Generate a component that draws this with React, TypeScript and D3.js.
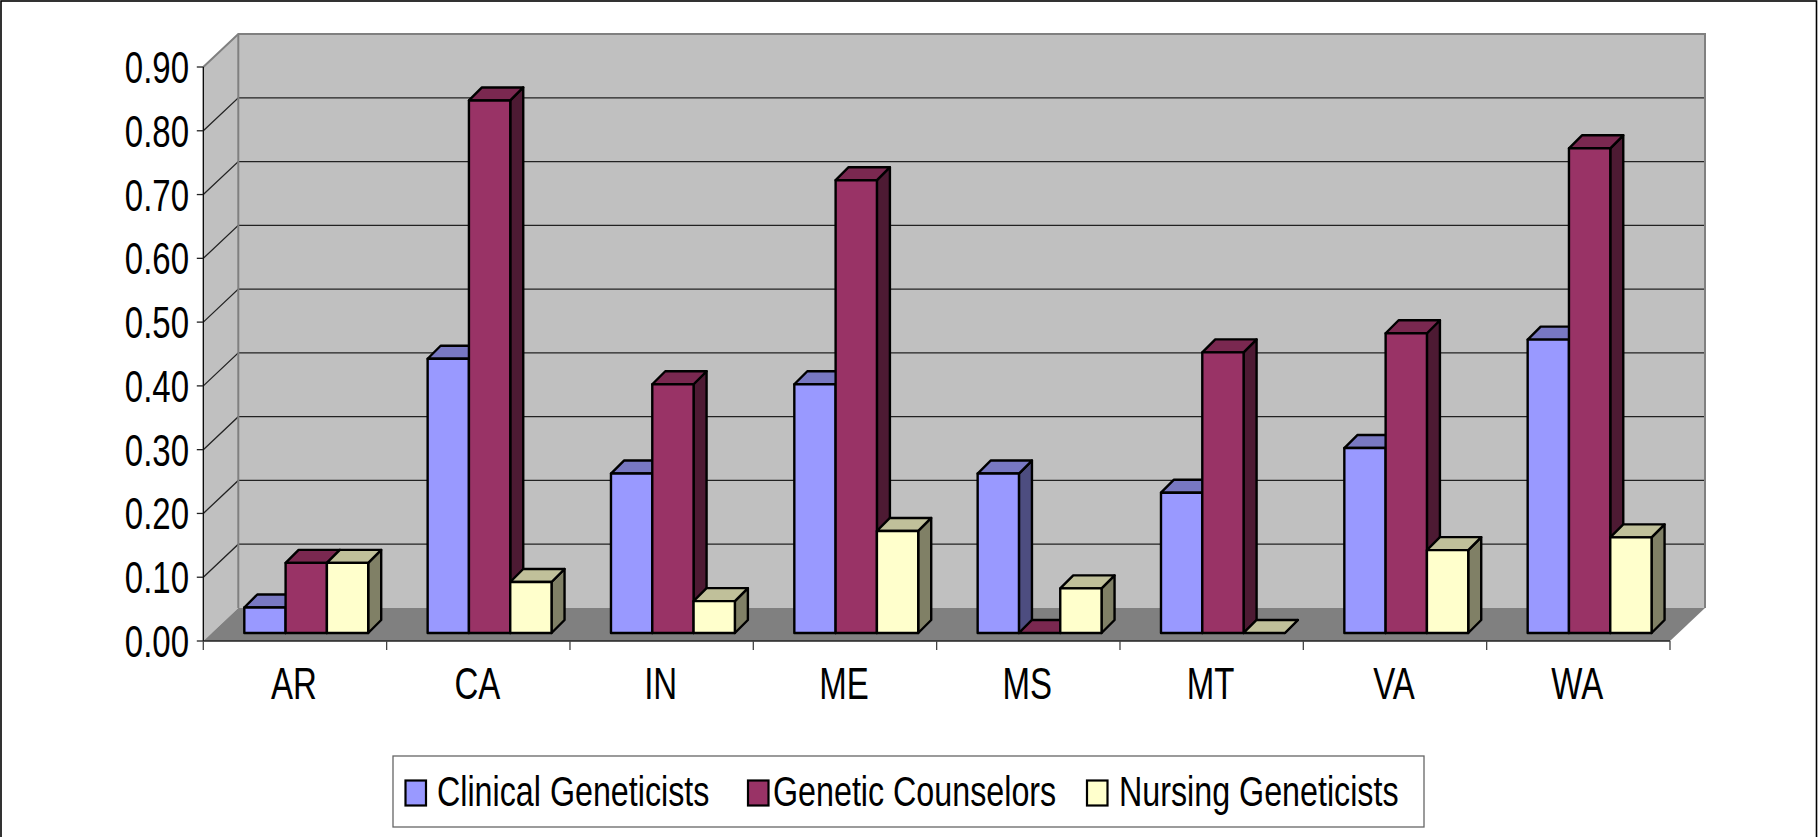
import React from "react";
import * as d3 from "d3";

const categories = ["AR", "CA", "IN", "ME", "MS", "MT", "VA", "WA"];
const seriesNames = ["Clinical Geneticists", "Genetic Counselors", "Nursing Geneticists"];
const clinical = [0.04, 0.43, 0.25, 0.39, 0.25, 0.22, 0.29, 0.46];
const counselors = [0.11, 0.835, 0.39, 0.71, 0, 0.44, 0.47, 0.76];
const nursing = [0.11, 0.08, 0.05, 0.16, 0.07, 0, 0.13, 0.15];
const yTicks = [0, 0.1, 0.2, 0.3, 0.4, 0.5, 0.6, 0.7, 0.8, 0.9];

const front = ["#9999FF", "#993366", "#FFFFCC"];
const top = ["#7878C2", "#7A2850", "#C0C09A"];
const side = ["#4D4D80", "#4D1A33", "#808066"];
const FONT = "'Liberation Sans', Arial, sans-serif";

const x = d3.scaleBand<string>().domain(categories).range([203.3, 1670]);
const y = d3.scaleLinear().domain([0, 0.9]).range([641, 67]);
const wallDx = 35;
const wallDy = -33;
const barDepth = 13;
const barBase = 8;
const barW = 41.3;
const barInset = 41;

const pts = (p: number[][]) => p.map((q) => q.join(",")).join(" ");

function Txt({ x: tx, y: ty, size, anchor, sx, children }: any) {
  return (
    <text
      transform={`translate(${tx},${ty}) scale(${sx},1)`}
      fontFamily={FONT}
      fontSize={size}
      textAnchor={anchor}
      fill="#000"
    >
      {children}
    </text>
  );
}

export default function App() {
  const seriesVals = [clinical, counselors, nursing];
  const x0 = x.range()[0];
  const x1 = x.range()[1];
  const y0 = y(0);
  const yMax = y(0.9);
  const legendItems = [
    { sw: 405.5, tx: 437, endW: 0 },
    { sw: 748, tx: 773, endW: 0 },
    { sw: 1087, tx: 1119, endW: 0 },
  ];
  return (
    <svg
      width={1818}
      height={837}
      style={{ position: "absolute", left: 0, top: 0, background: "#fff" }}
    >
      <rect x={1} y={1} width={1815.5} height={840} fill="#fff" stroke="#000" strokeWidth={1.6} />
      {/* walls */}
      <polygon
        points={pts([[x0, y0], [x0 + wallDx, y0 + wallDy], [x0 + wallDx, yMax + wallDy], [x0, yMax]])}
        fill="#C0C0C0"
      />
      <rect
        x={x0 + wallDx}
        y={yMax + wallDy}
        width={x1 - x0}
        height={y0 - yMax}
        fill="#C0C0C0"
      />
      {/* grid */}
      {yTicks.slice(1, -1).map((t) => (
        <g key={t} stroke="#222" strokeWidth={1.3} fill="none">
          <polyline points={pts([[x0, y(t)], [x0 + wallDx, y(t) + wallDy], [x1 + wallDx, y(t) + wallDy]])} />
        </g>
      ))}
      {/* wall outlines */}
      <polyline
        points={pts([[x0, yMax], [x0 + wallDx, yMax + wallDy], [x1 + wallDx, yMax + wallDy], [x1 + wallDx, y0 + wallDy]])}
        fill="none"
        stroke="#808080"
        strokeWidth={2}
      />
      <line x1={x0 + wallDx} y1={yMax + wallDy} x2={x0 + wallDx} y2={y0 + wallDy} stroke="#808080" strokeWidth={2} />
      {/* floor */}
      <polygon
        points={pts([[x0, y0], [x0 + wallDx, y0 + wallDy], [x1 + wallDx, y0 + wallDy], [x1, y0]])}
        fill="#808080"
      />
      {/* axes */}
      <line x1={x0} y1={yMax} x2={x0} y2={y0} stroke="#000" strokeWidth={1.3} />
      <line x1={x0} y1={y0} x2={x1} y2={y0} stroke="#222" strokeWidth={1.5} />
      {yTicks.map((t) => (
        <g key={t}>
          <line x1={x0 - 6.5} x2={x0} y1={y(t)} y2={y(t)} stroke="#222" strokeWidth={1.3} />
          <Txt x={189} y={y(t) + 16} size={44} anchor="end" sx={0.75}>
            {t.toFixed(2)}
          </Txt>
        </g>
      ))}
      {[...categories.map((c) => x(c) as number), x1].map((v, i) => (
        <line key={i} x1={v} x2={v} y1={y0} y2={y0 + 9} stroke="#444" strokeWidth={1.3} />
      ))}
      {categories.map((c) => (
        <Txt key={c} x={(x(c) as number) + x.bandwidth() / 2 - 1} y={699} size={44} anchor="middle" sx={0.75}>
          {c}
        </Txt>
      ))}
      {/* bars */}
      {categories.map((c, ci) => (
        <g key={c} stroke="#000" strokeWidth={2.4} strokeLinejoin="round">
          {seriesVals.map((vals, si) => {
            const l = (x(c) as number) + barInset + si * barW;
            const r = l + barW;
            const b = y0 - barBase;
            const t = b - (y0 - y(vals[ci]));
            const d = barDepth;
            return (
              <g key={si}>
                <polygon points={pts([[r, b], [r + d, b - d], [r + d, t - d], [r, t]])} fill={side[si]} />
                <polygon points={pts([[l, t], [l + d, t - d], [r + d, t - d], [r, t]])} fill={top[si]} />
                {vals[ci] > 0 && <rect x={l} y={t} width={barW} height={b - t} fill={front[si]} />}
              </g>
            );
          })}
        </g>
      ))}
      {/* legend */}
      <rect x={393} y={756} width={1031} height={71} fill="#fff" stroke="#666" strokeWidth={1.3} />
      {seriesNames.map((n, i) => (
        <g key={n}>
          <rect
            x={legendItems[i].sw}
            y={780.5}
            width={20.5}
            height={25}
            fill={front[i]}
            stroke="#000"
            strokeWidth={2.2}
          />
          <Txt x={legendItems[i].tx} y={806} size={43} anchor="start" sx={0.75}>
            {n}
          </Txt>
        </g>
      ))}
    </svg>
  );
}
